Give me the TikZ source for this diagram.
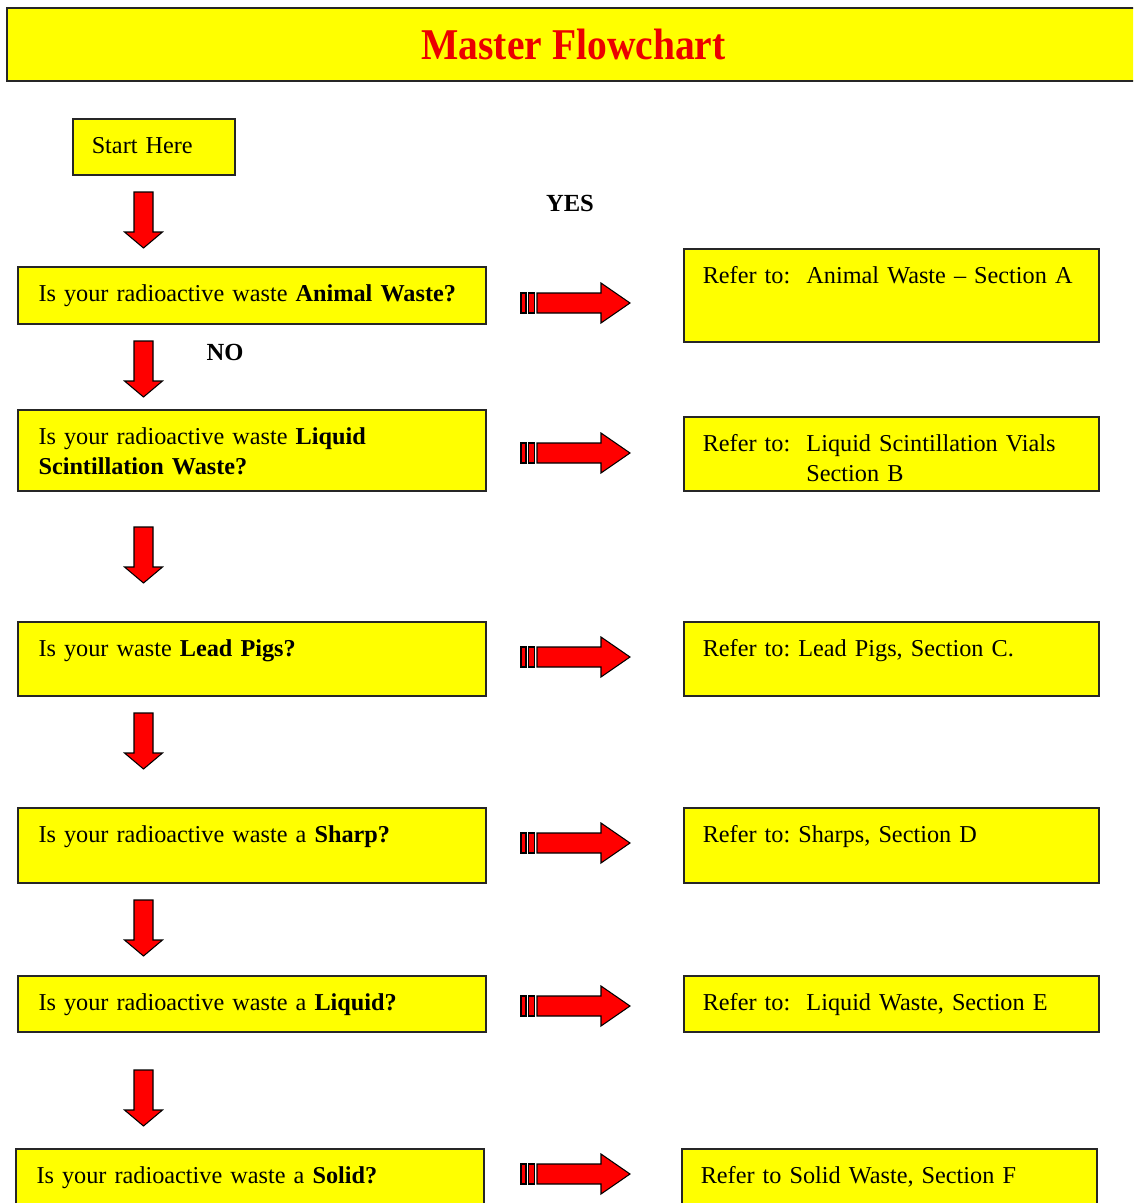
\documentclass[tikz,border=0pt]{standalone}
\usepackage{fontspec}
\usepackage{graphicx}
\setmainfont{Liberation Serif}
\frenchspacing

\definecolor{boxyellow}{RGB}{255,255,0}
\definecolor{arrowred}{RGB}{255,0,0}
\definecolor{titlered}{RGB}{235,0,0}

\tikzset{
  arrowfill/.style={draw=black, line width=0.6pt, fill=arrowred, line join=miter},
  downarr/.pic={
    \draw[arrowfill] (-9.5,0) -- (9.5,0) -- (9.5,40) -- (19,40) -- (0,56) -- (-19,40) -- (-9.5,40) -- cycle;
  },
  yesarr/.pic={
    \draw[arrowfill] (1,-10) rectangle (6,10);
    \draw[arrowfill] (8.5,-10) rectangle (14.5,10);
    \draw[arrowfill] (17,-10) -- (81,-10) -- (81,-20) -- (110,0) -- (81,20) -- (81,10) -- (17,10) -- cycle;
  },
}

\begin{document}
\begin{tikzpicture}[x=0.02cm,y=-0.02cm,
    flowbox/.style={draw=black!85, line width=1.1pt, fill=boxyellow, anchor=north west,
      inner xsep=11.7pt, inner ysep=0pt, text height=19.6pt, align=left,
      font=\fontsize{13.8}{17}\selectfont},
    qbox/.style={flowbox, text width=243pt},
    refbox/.style={flowbox, inner xsep=10.7pt, text width=215pt},
    tag/.style={font=\fontsize{14}{17}\selectfont\bfseries}]

  \useasboundingbox (0,0) rectangle (1133,1203);
  \clip (0,0) rectangle (1133,1203);

  % title bar
  \node[draw=black!85, line width=1.5pt, fill=boxyellow, minimum width=645pt, minimum height=41.5pt,
        font=\fontsize{25}{30}\selectfont\bfseries, text=titlered] (title) at (573.5,44.5)
        {\scalebox{0.9}[1]{Master Flowchart}};

  \node[flowbox, inner xsep=10.7pt, text width=71pt, text depth=12.3pt] (start) at (72,118) {Start Here};
  \pic at (143.5,192) {downarr};

  \node[tag] (yes) at (570,203) {YES};

  % questions
  \node[qbox, text depth=12.8pt] (q1) at (17,266) {Is your radioactive waste \textbf{Animal Waste?}};
  \pic at (143.5,341) {downarr};
  \node[tag] (no) at (225,352) {NO};

  \node[qbox, text depth=26.5pt] (q2) at (17,409) {Is your radioactive waste \textbf{Liquid}\\\textbf{Scintillation Waste?}};
  \pic at (143.5,527) {downarr};

  \node[qbox, text depth=22.5pt] (q3) at (17,621) {Is your waste \textbf{Lead Pigs?}};
  \pic at (143.5,713) {downarr};

  \node[qbox, text depth=23.1pt] (q4) at (17,807) {Is your radioactive waste a \textbf{Sharp?}};
  \pic at (143.5,900) {downarr};

  \node[qbox, text depth=12.3pt] (q5) at (17,975) {Is your radioactive waste a \textbf{Liquid?}};
  \pic at (143.5,1070) {downarr};

  \node[qbox, text depth=20.2pt] (q6) at (15,1148) {Is your radioactive waste a \textbf{Solid?}};

  % yes arrows
  \pic at (520,303) {yesarr};
  \pic at (520,453) {yesarr};
  \pic at (520,657) {yesarr};
  \pic at (520,843) {yesarr};
  \pic at (520,1006) {yesarr};
  \pic at (520,1174) {yesarr};

  % sections
  \node[refbox, text depth=33.3pt] (r1) at (683,248) {Refer to:\ \ Animal Waste -- Section A};
  \node[refbox, text depth=22.5pt] (r2) at (683,416) {Refer to:\ \ Liquid Scintillation Vials\\\phantom{Refer to:\ \ }Section B};
  \node[refbox, text depth=22.5pt] (r3) at (683,621) {Refer to: Lead Pigs, Section C.};
  \node[refbox, text depth=23.1pt] (r4) at (683,807) {Refer to: Sharps, Section D};
  \node[refbox, text depth=12.3pt] (r5) at (683,975) {Refer to:\ \ Liquid Waste, Section E};
  \node[refbox, text depth=20.2pt] (r6) at (681,1148) {Refer to Solid Waste, Section F};

\end{tikzpicture}
\end{document}
